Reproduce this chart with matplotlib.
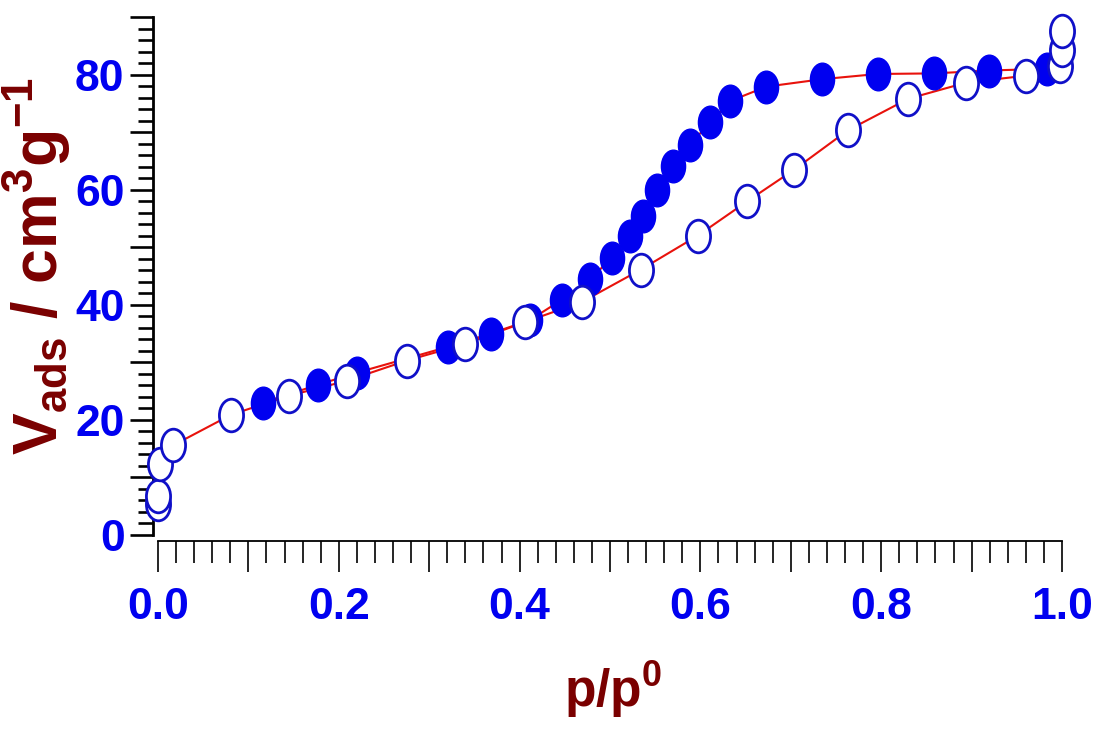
import matplotlib
matplotlib.use("Agg")
import matplotlib.pyplot as plt
from matplotlib.path import Path
from matplotlib.transforms import Affine2D
from matplotlib.markers import MarkerStyle
from matplotlib.ticker import MultipleLocator, FuncFormatter

# ---- data ----
ads_p = [0.000, 0.000, 0.002, 0.017, 0.081, 0.145, 0.209, 0.275, 0.340, 0.406,
         0.469, 0.534, 0.597, 0.652, 0.704, 0.763, 0.830, 0.894, 0.960, 0.998,
         1.000, 1.000]
ads_v = [5.4, 6.8, 12.3, 15.6, 20.9, 24.2, 26.8, 30.3, 33.2, 37.0,
         40.5, 46.1, 52.0, 58.0, 63.5, 70.3, 75.8, 78.6, 79.8, 81.4,
         84.3, 87.5]

des_p = [0.983, 0.919, 0.858, 0.796, 0.735, 0.673, 0.633, 0.611, 0.588, 0.570,
         0.552, 0.537, 0.522, 0.502, 0.478, 0.447, 0.411, 0.368, 0.321, 0.220,
         0.177, 0.116]
des_v = [81.0, 80.7, 80.2, 80.1, 79.2, 77.9, 75.4, 71.7, 67.8, 64.1,
         59.9, 55.5, 52.0, 48.2, 44.4, 40.9, 37.3, 35.0, 32.7, 28.2,
         26.1, 23.0]

x_ticklabels = ["0.0", "0.2", "0.4", "0.6", "0.8", "1.0"]
y_ticklabels = ["0", "20", "40", "60", "80"]

# ---- style ----
BLUE = "#0000f0"
EDGE = "#1010c8"
RED = "#e8120c"
DARKRED = "#7a0000"
FONT = ["Liberation Sans", "DejaVu Sans"]

plt.rcParams["mathtext.fontset"] = "custom"
plt.rcParams["mathtext.rm"] = "Liberation Sans:bold"
plt.rcParams["mathtext.bf"] = "Liberation Sans:bold"
plt.rcParams["mathtext.default"] = "bf"

W, H = 1094, 729
fig = plt.figure(figsize=(W / 100, H / 100), dpi=100)
ax = fig.add_axes([158 / W, (H - 535) / H, (1062 - 158) / W, (535 - 17) / H])
ax.set_xlim(0, 1)
ax.set_ylim(0, 90)

# elliptical marker (taller than wide)
ell = Path.unit_circle().transformed(Affine2D().scale(0.74, 1.0))
mk = MarkerStyle(ell)

ax.plot(des_p, des_v, color=RED, lw=1.5, zorder=2, clip_on=False)
ax.plot(ads_p, ads_v, color=RED, lw=1.5, zorder=2, clip_on=False)
ax.plot(des_p, des_v, linestyle="none", marker=mk, markersize=23.5,
        markerfacecolor=BLUE, markeredgecolor=BLUE, markeredgewidth=1.0,
        zorder=3, clip_on=False)
ax.plot(ads_p, ads_v, linestyle="none", marker=mk, markersize=23.5,
        markerfacecolor="white", markeredgecolor=EDGE, markeredgewidth=2.0,
        zorder=4, clip_on=False)

# spines
for s in ("top", "right"):
    ax.spines[s].set_visible(False)
ax.spines["left"].set_position(("outward", 3.6))
ax.spines["left"].set_bounds(0, 90)
ax.spines["left"].set_linewidth(2.0)
ax.spines["bottom"].set_position(("outward", 4.3))
ax.spines["bottom"].set_bounds(0, 1)
ax.spines["bottom"].set_linewidth(1.3)

# ticks
ax.xaxis.set_major_locator(MultipleLocator(0.1))
ax.xaxis.set_minor_locator(MultipleLocator(0.02))
ax.yaxis.set_major_locator(MultipleLocator(10))
ax.yaxis.set_minor_locator(MultipleLocator(2))

xl = {round(i * 0.2, 1): t for i, t in enumerate(x_ticklabels)}
yl = {i * 20: t for i, t in enumerate(y_ticklabels)}
ax.xaxis.set_major_formatter(FuncFormatter(lambda v, p: xl.get(round(v, 1), "")))
ax.yaxis.set_major_formatter(FuncFormatter(lambda v, p: yl.get(int(round(v)), "")))

ax.tick_params(axis="y", which="major", direction="out", length=16.5, width=1.9,
               pad=4, labelsize=32, labelcolor=BLUE)
ax.tick_params(axis="y", which="minor", direction="out", length=10.5, width=1.9)
ax.tick_params(axis="x", which="major", direction="out", length=22, width=1.2,
               pad=11, labelsize=32, labelcolor=BLUE)
ax.tick_params(axis="x", which="minor", direction="out", length=15.5, width=1.2)
for lab in ax.get_xticklabels() + ax.get_yticklabels():
    lab.set_family(FONT)
    lab.set_fontweight("bold")

# axis titles
fig.text(37 / W, 1 - 266 / H, r"V$_{\mathbf{ads}}$ / cm$^{\mathbf{3}}$g$^{\mathbf{-1}}$",
         rotation=90, ha="center", va="center", fontsize=45, fontweight="bold",
         color=DARKRED, family=FONT)
fig.text(613 / W, 1 - 707 / H, r"p/p$^{\mathbf{0}}$", ha="center", va="baseline",
         fontsize=37, fontweight="bold", color=DARKRED, family=FONT)

fig.savefig("out.png", dpi=100)
